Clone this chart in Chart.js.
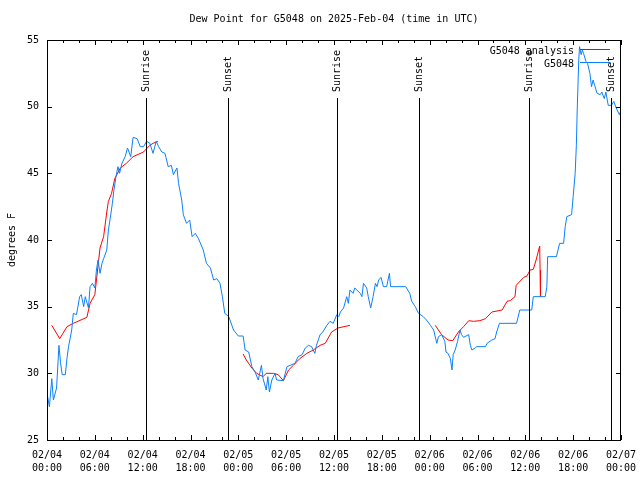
<!DOCTYPE html>
<html>
<head>
<meta charset="utf-8">
<script src="https://cdn.jsdelivr.net/npm/chart.js@4.4.1/dist/chart.umd.min.js"></script>
<style>
  html, body { margin: 0; padding: 0; background: #fff; }
  #wrap { width: 640px; height: 480px; }
</style>
</head>
<body>
<div id="wrap"><canvas id="dewChart" width="640" height="480"></canvas></div>
<script>
// hours since 02/04 00:00 UTC
const stationHours = [
  0.0, 0.3, 0.6, 0.8, 1.2, 1.5, 1.7, 1.9, 2.3, 2.5, 2.7, 3.1, 3.3, 3.7, 4.1, 4.3, 4.6, 4.8, 5.2, 5.4,
  5.7, 6.0, 6.2, 6.4, 6.65, 6.9, 7.1, 7.5, 7.7, 7.9, 8.2, 8.4, 8.65, 8.9, 9.1, 9.4, 9.8, 10.1, 10.5, 10.8,
  11.3, 11.7, 12.1, 12.5, 12.9, 13.3, 13.7, 14.0, 14.4, 14.8, 15.2, 15.6, 15.85, 16.3, 16.5, 16.9, 17.1, 17.5, 17.9, 18.2,
  18.6, 19.0, 19.6, 20.0, 20.5, 20.9, 21.3, 21.7, 22.0, 22.3, 22.8, 23.4, 24.0, 24.6, 24.85, 25.3, 25.7, 26.1, 26.5, 26.9,
  27.1, 27.5, 27.7, 27.9, 28.2, 28.6, 28.8, 29.65, 30.1, 30.5, 31.1, 31.5, 32.0, 32.4, 32.8, 33.2, 33.6, 33.8, 34.25, 34.6,
  35.1, 35.5, 35.9, 36.35, 36.6, 36.8, 37.2, 37.6, 37.8, 38.0, 38.4, 38.6, 39.3, 39.5, 39.7, 40.1, 40.3, 40.6, 40.9, 41.2,
  41.4, 41.6, 41.9, 42.2, 42.6, 42.95, 43.1, 45.0, 45.5, 45.75, 46.2, 46.6, 47.2, 47.6, 48.1, 48.5, 48.9, 49.1, 49.5, 49.9,
  50.05, 50.3, 50.6, 50.8, 50.95, 51.2, 51.5, 51.8, 52.0, 52.25, 52.9, 53.1, 53.3, 53.7, 53.9, 55.0, 55.2, 55.8, 56.2, 56.4,
  56.75, 58.9, 59.3, 60.8, 61.0, 62.5, 62.7, 62.8, 63.9, 64.3, 64.8, 65.0, 65.2, 65.8, 66.0, 66.25, 66.4, 66.5, 66.7, 66.8,
  67.0, 67.15, 67.3, 67.6, 67.8, 68.1, 68.3, 68.5, 68.7, 69.0, 69.4, 69.6, 69.9, 70.1, 70.4, 70.8, 71.1, 71.4, 71.8, 72.0
];
const stationDew = [
  28.5, 27.5, 29.6, 28.0, 28.9, 32.1, 30.8, 29.9, 29.9, 31.1, 32.0, 33.25, 34.5, 34.4, 35.75, 35.9, 35.0, 35.75, 34.9, 36.5,
  36.75, 36.4, 37.75, 38.5, 37.5, 38.25, 38.6, 39.25, 40.75, 41.5, 42.75, 43.75, 44.75, 45.5, 45.0, 45.75, 46.25, 46.9, 46.25, 47.7,
  47.6, 47.0, 47.0, 47.4, 47.25, 46.5, 47.4, 47.0, 46.6, 46.5, 45.5, 45.6, 44.9, 45.4, 44.25, 43.0, 41.9, 41.25, 41.5, 40.25,
  40.5, 40.1, 39.25, 38.25, 37.9, 37.0, 37.1, 36.75, 35.75, 34.5, 34.25, 33.25, 32.8, 32.8, 31.75, 31.6, 30.5, 30.1, 29.5, 30.6,
  29.6, 28.75, 29.75, 28.6, 29.5, 30.0, 29.5, 29.45, 30.5, 30.6, 30.75, 31.25, 31.4, 31.9, 32.1, 32.0, 31.5, 32.1, 32.9, 33.1,
  33.6, 33.9, 33.75, 34.4, 34.25, 34.6, 34.9, 35.75, 35.25, 36.25, 36.0, 36.4, 36.0, 35.75, 36.75, 36.4, 35.75, 34.9, 35.75, 36.75,
  36.5, 37.0, 37.2, 36.5, 36.5, 37.5, 36.5, 36.5, 36.0, 35.4, 35.0, 34.5, 34.25, 34.0, 33.6, 33.25, 32.25, 32.75, 32.9, 32.4,
  31.6, 31.5, 31.1, 30.25, 31.4, 31.75, 32.4, 33.25, 32.9, 32.7, 32.9, 32.1, 31.75, 31.9, 32.0, 32.0, 32.25, 32.5, 32.6, 33.1,
  33.75, 33.75, 34.75, 34.75, 35.75, 35.75, 36.5, 38.75, 38.75, 39.75, 39.75, 41.0, 41.75, 41.9, 43.25, 45.0, 47.1, 49.6, 53.5, 54.5,
  53.9, 54.25, 54.0, 53.4, 53.25, 52.5, 51.5, 52.0, 51.6, 51.0, 50.9, 51.1, 50.6, 51.1, 50.1, 50.1, 50.4, 49.9, 49.4, 49.75
];

// analysis series, null = gap
const analysisHours = [
  0.6, 1.6, 2.5, 3.3, 5.0, 5.4, 6.0, 6.65, 7.1, 7.5, 7.7, 8.1, 8.5, 9.2, 9.95, 10.8, 12.1, 12.9, 13.3, 13.9,
  19.0,
  24.6, 25.0, 25.7, 26.3, 27.1, 27.5, 28.4, 29.0, 29.65, 30.3, 30.9, 31.7, 32.6, 33.4, 34.25, 34.9, 35.7, 36.5, 38.0,
  43.0,
  48.7, 49.5, 50.3, 50.9, 51.6, 52.25, 52.9, 53.5, 54.3, 55.0, 55.8, 57.1, 57.7, 58.1, 58.7, 58.85, 59.8, 60.2, 60.6, 61.0,
  61.35, 61.8, 61.85, 61.9
];
const analysisDew = [
  33.6, 32.6, 33.5, 33.75, 34.2, 35.25, 35.9, 39.4, 40.25, 42.1, 42.9, 43.5, 44.6, 45.4, 45.75, 46.25, 46.6, 47.1, 47.25, 47.4,
  null,
  31.45, 31.0, 30.4, 30.0, 29.75, 30.0, 30.0, 29.9, 29.45, 30.25, 30.6, 31.1, 31.5, 31.75, 32.1, 32.25, 33.1, 33.4, 33.6,
  null,
  33.6, 32.9, 32.5, 32.45, 33.1, 33.5, 33.95, 33.9, 33.95, 34.1, 34.6, 34.75, 35.4, 35.45, 35.75, 36.6, 37.2, 37.3, 37.75, 37.8,
  38.5, 39.55, 37.75, 35.75
];

const sunHours = [12.42, 22.75, 36.43, 46.72, 60.47, 70.8];
const sunLabels = ["Sunrise", "Sunset", "Sunrise", "Sunset", "Sunrise", "Sunset"];

const tickDates = ["02/04", "02/04", "02/04", "02/04", "02/05", "02/05", "02/05", "02/05", "02/06", "02/06", "02/06", "02/06", "02/07"];
const tickTimes = ["00:00", "06:00", "12:00", "18:00", "00:00", "06:00", "12:00", "18:00", "00:00", "06:00", "12:00", "18:00", "00:00"];

const chartTitle = 'Dew Point for G5048 on 2025-Feb-04 (time in UTC)';

const toPoints = (xs, ys) => xs.map((h, i) => ({ x: h, y: ys[i] }));

Chart.defaults.font.family = "'DejaVu Sans Mono', monospace";
Chart.defaults.font.size = 10;
Chart.defaults.color = '#000';

// gnuplot-like frame, inward ticks, title, sun lines and legend
const framePlugin = {
  id: 'frame',
  afterDatasetsDraw(chart) {
    const ctx = chart.ctx;
    const area = chart.chartArea;
    const xs = chart.scales.x, ys = chart.scales.y;
    ctx.save();
    ctx.strokeStyle = '#000';
    ctx.lineWidth = 1;
    ctx.beginPath();
    ctx.rect(Math.round(area.left) + 0.5, Math.round(area.top) + 0.5,
             Math.round(area.right - area.left) - 1, Math.round(area.bottom - area.top));
    ctx.stroke();

    ctx.beginPath();
    for (let h = 0; h <= 72; h += 2) {
      const px = Math.round(xs.getPixelForValue(h)) + 0.5;
      const len = h % 6 === 0 ? 5 : 3;
      ctx.moveTo(px, area.bottom); ctx.lineTo(px, area.bottom - len);
      ctx.moveTo(px, area.top); ctx.lineTo(px, area.top + len);
    }
    ys.ticks.forEach(t => {
      const py = Math.round(ys.getPixelForValue(t.value)) + 0.5;
      ctx.moveTo(area.left, py); ctx.lineTo(area.left + 5, py);
      ctx.moveTo(area.right, py); ctx.lineTo(area.right - 5, py);
    });
    ctx.stroke();

    ctx.font = "10px 'DejaVu Sans Mono'";
    ctx.fillStyle = '#000';

    // title, centred over the plot
    ctx.textAlign = 'center';
    ctx.textBaseline = 'middle';
    ctx.fillText(chartTitle, (area.left + area.right) / 2, 19);

    // sunrise / sunset markers
    sunHours.forEach((h, i) => {
      const px = Math.round(xs.getPixelForValue(h)) + 0.5;
      ctx.beginPath();
      ctx.moveTo(px, area.top + 58);
      ctx.lineTo(px, area.bottom);
      ctx.stroke();
      ctx.save();
      ctx.translate(px, area.top + 52);
      ctx.rotate(-Math.PI / 2);
      ctx.textAlign = 'left';
      ctx.textBaseline = 'middle';
      ctx.fillText(sunLabels[i], 0, 0);
      ctx.restore();
    });

    // legend
    ctx.textAlign = 'right';
    ctx.textBaseline = 'middle';
    chart.data.datasets.slice().sort((a, b) => a.legendRank - b.legendRank).forEach((ds, i) => {
      const y = area.top + 10 + i * 13;
      ctx.fillStyle = '#000';
      ctx.fillText(ds.label, area.right - 47, y + 1);
      ctx.strokeStyle = ds.borderColor;
      ctx.beginPath();
      ctx.moveTo(area.right - 41, y - 0.5);
      ctx.lineTo(area.right - 11, y - 0.5);
      ctx.stroke();
    });
    ctx.restore();
  }
};

new Chart(document.getElementById('dewChart'), {
  type: 'line',
  data: {
    datasets: [
      {
        label: 'G5048',
        legendRank: 1,
        data: toPoints(stationHours, stationDew),
        borderColor: '#0a80ff',
        borderWidth: 1,
        pointRadius: 0,
        order: 0
      },
      {
        label: 'G5048 analysis',
        legendRank: 0,
        data: toPoints(analysisHours, analysisDew),
        borderColor: '#ff0000',
        borderWidth: 1,
        pointRadius: 0,
        spanGaps: false,
        order: 1
      }
    ]
  },
  options: {
    responsive: false,
    animation: false,
    devicePixelRatio: 1,
    layout: { padding: { left: 0, right: 19, top: 40, bottom: 0 } },
    plugins: {
      legend: { display: false },
      tooltip: { enabled: false },
      title: { display: false }
    },
    scales: {
      x: {
        type: 'linear',
        min: 0,
        max: 72,
        grid: { display: false, drawTicks: false },
        border: { display: false },
        ticks: {
          stepSize: 6,
          autoSkip: false,
          maxRotation: 0,
          padding: 9,
          font: { size: 10, lineHeight: 1.3 },
          callback: (v) => [tickDates[v / 6], tickTimes[v / 6]]
        },
        afterFit: (s) => { s.height = 40; s.paddingLeft = 0; s.paddingRight = 0; }
      },
      y: {
        min: 25,
        max: 55,
        grid: { display: false, drawTicks: false },
        border: { display: false },
        ticks: { stepSize: 5, padding: 8 },
        title: {
          display: true,
          text: 'degrees F',
          font: { size: 10, lineHeight: 1.2 },
          padding: { top: 6, bottom: 0 }
        },
        afterFit: (s) => { s.width = 47; s.paddingTop = 0; s.paddingBottom = 0; }
      }
    }
  },
  plugins: [framePlugin]
});
</script>
</body>
</html>
